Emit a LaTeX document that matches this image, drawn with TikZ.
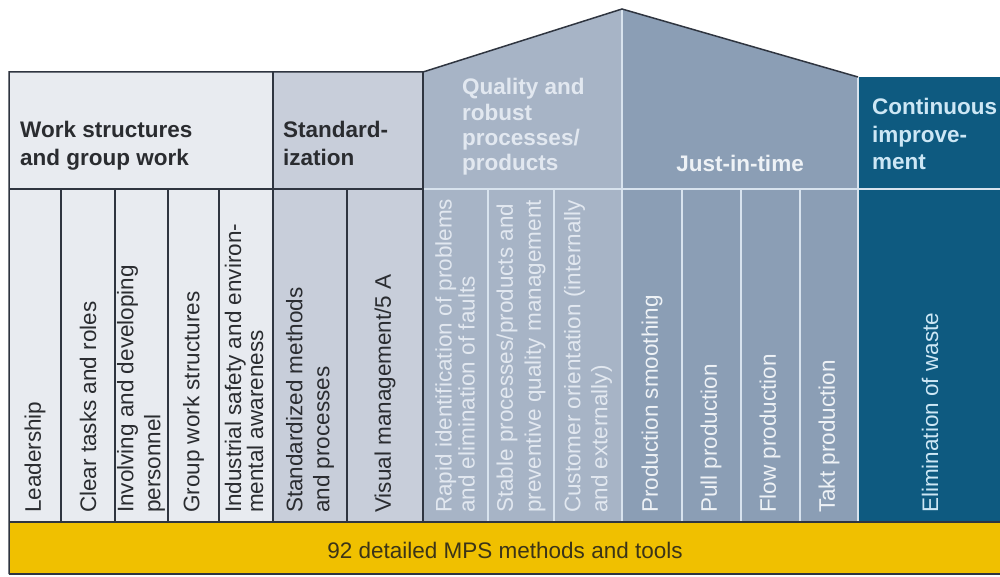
\documentclass[tikz,border=0pt]{standalone}
\usepackage{fontspec}
\setmainfont{Liberation Sans}
\definecolor{workbg}{HTML}{E8EBF0}
\definecolor{stdbg}{HTML}{C8CEDA}
\definecolor{qualbg}{HTML}{A7B4C6}
\definecolor{jitbg}{HTML}{8B9EB5}
\definecolor{cibg}{HTML}{0E5A80}
\definecolor{bandbg}{HTML}{F0C000}
\definecolor{darkline}{HTML}{2F3540}
\definecolor{lightline}{HTML}{D8E3EE}
\definecolor{darktext}{HTML}{2A2C30}
\definecolor{qualtext}{HTML}{E2E8F0}
\definecolor{jittext}{HTML}{EEF2F6}
\definecolor{citext}{HTML}{CDE7F5}
\definecolor{bandtext}{HTML}{3B3418}
\tikzset{
  coltext/.style={rotate=90, anchor=west, inner sep=0pt, align=left,
    font=\fontsize{22.5}{#1}\selectfont},
  coltext/.default=27,
  hdr/.style={anchor=south west, inner sep=0pt, align=left, text depth=0pt,
    font=\bfseries\fontsize{22.5}{#1}\selectfont},
  hdr/.default=28,
  dline/.style={draw=darkline, line width=1.5pt},
  lline/.style={draw=lightline, line width=1.5pt},
}
\begin{document}
\begin{tikzpicture}[x=1pt,y=-1pt]
\useasboundingbox[fill=white] (0,0) rectangle (1000,577);
% section fills
\fill[workbg] (9,72) rectangle (273,522);
\fill[stdbg] (273,72) rectangle (423,522);
\fill[qualbg] (423,72) -- (622,9) -- (622,522) -- (423,522) -- cycle;
\fill[jitbg] (622,9) -- (858,77) -- (858,522) -- (622,522) -- cycle;
\fill[cibg] (858,77) rectangle (1000,522);
\fill[bandbg] (9,522) rectangle (1000,574);
% light lines
\draw[lline] (423,189) -- (1000,189);
\foreach \x in {488,554,682,741,800} \draw[lline] (\x,189) -- (\x,522);
\draw[lline] (622,9) -- (622,522);
\draw[lline] (858,77) -- (858,522);
% dark lines
\draw[dline] (9,574) -- (9,72) -- (423,72) -- (622,9) -- (858,77);
\draw[dline] (9,189) -- (423,189);
\foreach \x in {61,115,168,219,347} \draw[dline] (\x,189) -- (\x,522);
\draw[dline] (273,72) -- (273,522);
\draw[dline] (423,72) -- (423,522);
\draw[dline] (9,522) -- (1000,522);
\draw[dline] (9,574) -- (1000,574);
% headers
\node[hdr, text=darktext] (hwork) at (20,166) {Work structures\\and group work};
\node[hdr, text=darktext] (hstd) at (283,166) {Standard-\\ization};
\node[hdr=25.3, text=qualtext] (hqual) at (462,171) {Quality and\\robust\\processes/\\products};
\node[hdr, anchor=south, text=jittext] (hjit) at (740,172) {Just-in-time};
\node[hdr=27.5, text=citext] (hci) at (872,170) {Continuous\\improve-\\ment};
% column texts
\node[coltext, text=darktext] (c1) at (35,513) {Leadership};
\node[coltext, text=darktext] (c2) at (88,513) {Clear tasks and roles};
\node[coltext, text=darktext] (c3) at (141,513) {Involving and developing\\personnel};
\node[coltext, text=darktext] (c4) at (193.5,513) {Group work structures};
\node[coltext=22, text=darktext] (c5) at (244,513) {Industrial safety and environ-\\mental awareness};
\node[coltext, text=darktext] (c6) at (310,513) {Standardized methods\\and processes};
\node[coltext, text=darktext] (c7) at (385,513) {Visual management/5 A};
\node[coltext=23, text=qualtext] (c8) at (455,513) {Rapid identification of problems\\and elimination of faults};
\node[coltext=28, text=qualtext] (c9) at (521,513) {Stable processes/products and\\preventive quality management};
\node[coltext, text=qualtext] (c10) at (588,513) {Customer orientation (internally\\and externally)};
\node[coltext, text=jittext] (c11) at (652,513) {Production smoothing};
\node[coltext, text=jittext] (c12) at (711,513) {Pull production};
\node[coltext, text=jittext] (c13) at (770,513) {Flow production};
\node[coltext, text=jittext] (c14) at (829,513) {Takt production};
\node[coltext, text=citext] (c15) at (930,513) {Elimination of waste};
% band
\node[anchor=base, inner sep=0pt, text=bandtext, font=\fontsize{22.5}{27}\selectfont] (band) at (505,558) {92 detailed MPS methods and tools};
\end{tikzpicture}
\end{document}
